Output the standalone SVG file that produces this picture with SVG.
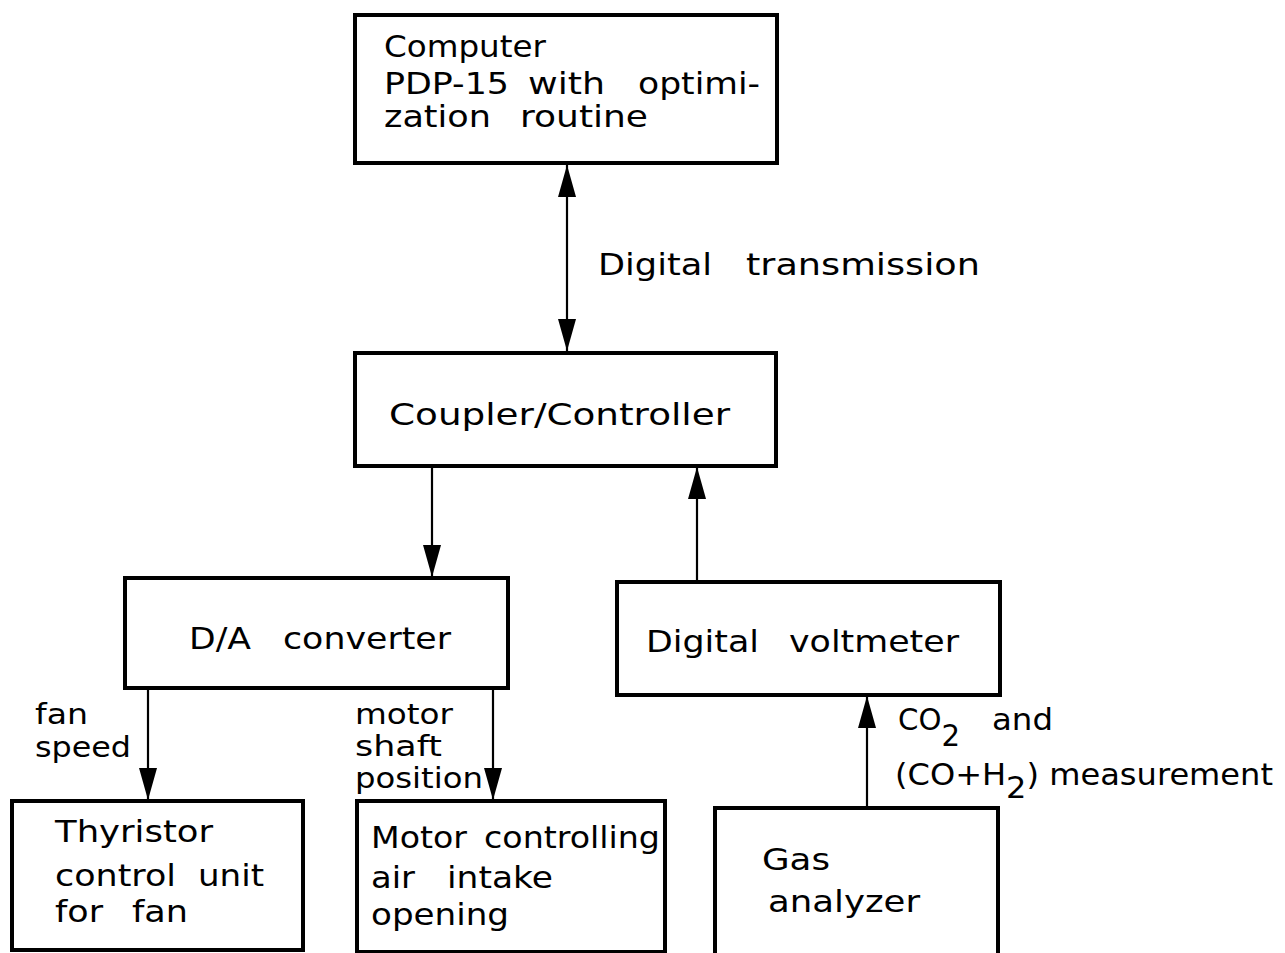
<svg xmlns="http://www.w3.org/2000/svg" width="1285" height="953" viewBox="0 0 1285 953">
<style>
.box{fill:#fff;stroke:#000;stroke-width:4}
.t{font-family:"DejaVu Sans","Liberation Sans",sans-serif;font-size:31px;fill:#000}
.l{font-family:"DejaVu Sans","Liberation Sans",sans-serif;font-size:29px;fill:#000}
.c{stroke:#000;stroke-width:2.2;fill:none}
</style>
<defs>
<marker id="ah" viewBox="0 0 32 20" refX="32" refY="10" markerWidth="32" markerHeight="20" markerUnits="userSpaceOnUse" orient="auto-start-reverse">
<path d="M0,1 L32,10 L0,19 Z" fill="#000"/>
</marker>
</defs>
<rect width="1285" height="953" fill="#fff"/>
<g id="connectors">
<line class="c" x1="567" y1="165" x2="567" y2="351" marker-start="url(#ah)" marker-end="url(#ah)"/>
<line class="c" x1="432" y1="467" x2="432" y2="577" marker-end="url(#ah)"/>
<line class="c" x1="697" y1="581" x2="697" y2="467" marker-end="url(#ah)"/>
<line class="c" x1="148" y1="689" x2="148" y2="800" marker-end="url(#ah)"/>
<line class="c" x1="493" y1="689" x2="493" y2="800" marker-end="url(#ah)"/>
<line class="c" x1="867" y1="807" x2="867" y2="696" marker-end="url(#ah)"/>
</g>
<g id="labels">
<text class="t" x="598" y="275" textLength="114" lengthAdjust="spacingAndGlyphs">Digital</text>
<text class="t" x="746" y="275" textLength="234" lengthAdjust="spacingAndGlyphs">transmission</text>
<text class="l" x="35" y="724" textLength="53" lengthAdjust="spacingAndGlyphs">fan</text>
<text class="l" x="35" y="757" textLength="96" lengthAdjust="spacingAndGlyphs">speed</text>
<text class="l" x="355" y="724" textLength="98" lengthAdjust="spacingAndGlyphs">motor</text>
<text class="l" x="355" y="756" textLength="87" lengthAdjust="spacingAndGlyphs">shaft</text>
<text class="l" x="355" y="788" textLength="128" lengthAdjust="spacingAndGlyphs">position</text>
<text class="t" x="898" y="730" textLength="62" lengthAdjust="spacingAndGlyphs">CO<tspan dy="16">2</tspan></text>
<text class="t" x="992" y="730" textLength="61" lengthAdjust="spacingAndGlyphs">and</text>
<text class="t" x="895" y="785" textLength="378" lengthAdjust="spacingAndGlyphs">(CO+H<tspan dy="13">2</tspan><tspan dy="-13">) measurement</tspan></text>
</g>
<g id="computer">
<rect class="box" x="355" y="15" width="422" height="148"/>
<text class="t" x="384" y="57" textLength="162" lengthAdjust="spacingAndGlyphs">Computer</text>
<text class="t" x="384" y="94" textLength="125" lengthAdjust="spacingAndGlyphs">PDP-15</text>
<text class="t" x="528" y="94" textLength="77" lengthAdjust="spacingAndGlyphs">with</text>
<text class="t" x="638" y="94" textLength="122" lengthAdjust="spacingAndGlyphs">optimi-</text>
<text class="t" x="384" y="127" textLength="107" lengthAdjust="spacingAndGlyphs">zation</text>
<text class="t" x="520" y="127" textLength="128" lengthAdjust="spacingAndGlyphs">routine</text>
</g>
<g id="coupler">
<rect class="box" x="355" y="353" width="421" height="113"/>
<text class="t" x="389" y="425" textLength="341" lengthAdjust="spacingAndGlyphs">Coupler/Controller</text>
</g>
<g id="da">
<rect class="box" x="125" y="578" width="383" height="110"/>
<text class="t" x="189" y="649" textLength="62" lengthAdjust="spacingAndGlyphs">D/A</text>
<text class="t" x="283" y="649" textLength="168" lengthAdjust="spacingAndGlyphs">converter</text>
</g>
<g id="voltmeter">
<rect class="box" x="617" y="582" width="383" height="113"/>
<text class="t" x="646" y="652" textLength="113" lengthAdjust="spacingAndGlyphs">Digital</text>
<text class="t" x="789" y="652" textLength="170" lengthAdjust="spacingAndGlyphs">voltmeter</text>
</g>
<g id="thyristor">
<rect class="box" x="12" y="801" width="291" height="149"/>
<text class="t" x="55" y="842" textLength="158" lengthAdjust="spacingAndGlyphs">Thyristor</text>
<text class="t" x="55" y="886" textLength="121" lengthAdjust="spacingAndGlyphs">control</text>
<text class="t" x="198" y="886" textLength="66" lengthAdjust="spacingAndGlyphs">unit</text>
<text class="t" x="55" y="922" textLength="48" lengthAdjust="spacingAndGlyphs">for</text>
<text class="t" x="132" y="922" textLength="56" lengthAdjust="spacingAndGlyphs">fan</text>
</g>
<g id="motor">
<rect class="box" x="357" y="801" width="308" height="151"/>
<text class="t" x="371" y="848" textLength="96" lengthAdjust="spacingAndGlyphs">Motor</text>
<text class="t" x="484" y="848" textLength="176" lengthAdjust="spacingAndGlyphs">controlling</text>
<text class="t" x="371" y="888" textLength="44" lengthAdjust="spacingAndGlyphs">air</text>
<text class="t" x="447" y="888" textLength="106" lengthAdjust="spacingAndGlyphs">intake</text>
<text class="t" x="371" y="925" textLength="138" lengthAdjust="spacingAndGlyphs">opening</text>
</g>
<g id="gas">
<rect class="box" x="715" y="808" width="283" height="160"/>
<text class="t" x="762" y="870" textLength="68" lengthAdjust="spacingAndGlyphs">Gas</text>
<text class="t" x="768" y="912" textLength="152" lengthAdjust="spacingAndGlyphs">analyzer</text>
</g>
</svg>
